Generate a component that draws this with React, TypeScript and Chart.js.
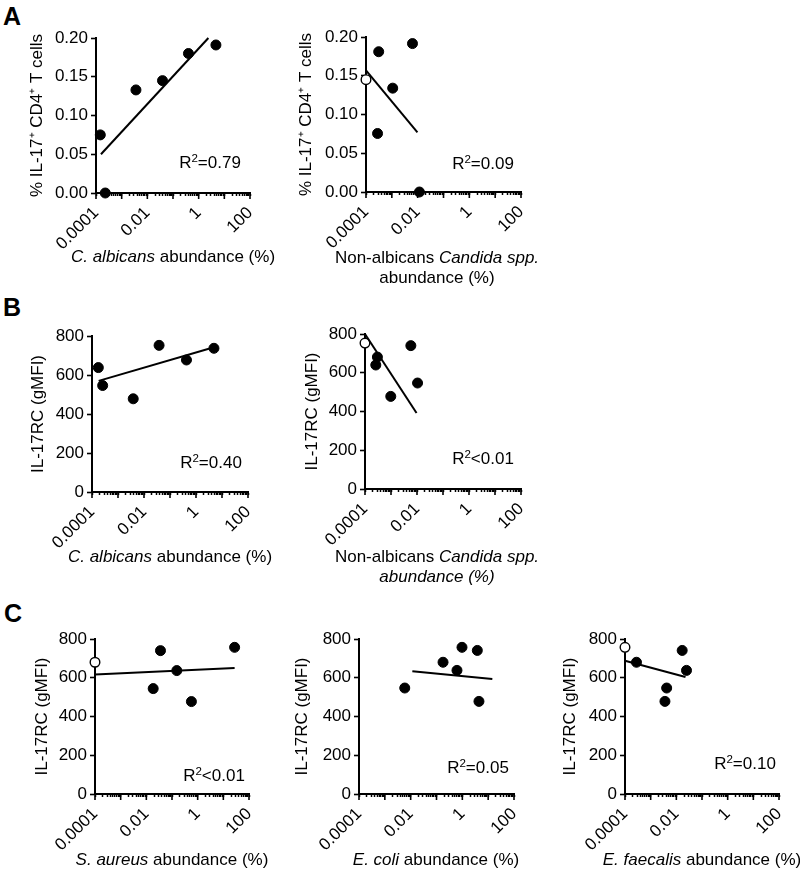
import React, { useEffect, useRef } from 'react';
import { Chart, registerables } from 'chart.js';

Chart.register(...registerables);

const FONT = '"Liberation Sans", Arial, Helvetica, sans-serif';
Chart.defaults.font.family = FONT;
Chart.defaults.color = '#000';

// ---------- axis ticks ----------
const X_MIN = 0.0001;
const X_MAX = 100;
const xTickValues = [0.0001, 0.01, 1, 100];
const xTickLabels = ['0.0001', '0.01', '1', '100'];
const yTicksPct = [0, 0.05, 0.1, 0.15, 0.2];
const yTicksMfi = [0, 200, 400, 600, 800];

const yTitlePct = '% IL-17\u207A CD4\u207A T cells';
const yTitleMfi = 'IL-17RC (gMFI)';

// ---------- Panel A, left: C. albicans ----------
const a1X = [0.000147, 0.00023, 0.0036, 0.039, 0.4, 4.7];
const a1Y = [0.075, 0, 0.133, 0.145, 0.18, 0.191];
const a1OpenX: number[] = [];
const a1OpenY: number[] = [];
const a1FitX = [0.000156, 2.39];
const a1FitY = [0.05, 0.2];

// ---------- Panel A, right: non-albicans Candida ----------
const a2X = [0.00031, 0.00028, 0.00108, 0.0063, 0.0117];
const a2Y = [0.181, 0.0755, 0.134, 0.1915, 0];
const a2OpenX = [0.0001];
const a2OpenY = [0.145];
const a2FitX = [0.0001, 0.0098];
const a2FitY = [0.157, 0.077];

// ---------- Panel B, left: C. albicans ----------
const b1X = [0.000175, 0.000257, 0.00385, 0.038, 0.43, 4.9];
const b1Y = [638, 546, 478, 752, 677, 737];
const b1OpenX: number[] = [];
const b1OpenY: number[] = [];
const b1FitX = [0.00018, 4.9];
const b1FitY = [570, 742];

// ---------- Panel B, right: non-albicans Candida ----------
const b2X = [0.0003, 0.00026, 0.00098, 0.0058, 0.0105];
const b2Y = [681, 640, 478, 740, 547];
const b2OpenX = [0.0001];
const b2OpenY = [753];
const b2FitX = [0.0001, 0.0096];
const b2FitY = [800, 392];

// ---------- Panel C, left: S. aureus ----------
const c1X = [0.0356, 0.0185, 0.154, 0.57, 27.5];
const c1Y = [740, 544, 637, 477, 757];
const c1OpenX = [0.0001];
const c1OpenY = [680];
const c1FitX = [0.0001, 27.5];
const c1FitY = [617, 650];

// ---------- Panel C, middle: E. coli ----------
const c2X = [0.0059, 0.179, 0.62, 0.97, 3.8, 4.4];
const c2Y = [547, 680, 638, 757, 741, 478];
const c2OpenX: number[] = [];
const c2OpenY: number[] = [];
const c2FitX = [0.0116, 14.5];
const c2FitY = [633, 594];

// ---------- Panel C, right: E. faecalis ----------
const c3X = [0.00028, 0.0036, 0.0042, 0.0169, 0.0249];
const c3Y = [680, 478, 547, 741, 638];
const c3OpenX = [0.0001];
const c3OpenY = [757];
const c3FitX = [0.0001, 0.0228];
const c3FitY = [688, 604];

// ---------- layout ----------
const PAD_T = 14;
const PAD_R = 14;
const X_H = 60;
const MINOR_LEN = 3;
const MAJOR_LEN = 6;

type Spec = {
  ax: number; right: number; top: number; bottom: number; yw: number;
  yMax: number; yTicks: number[]; yTitle: string; dec: number;
  fx: number[]; fy: number[]; ox: number[]; oy: number[]; lx: number[]; ly: number[];
};

const specs: Spec[] = [
  { ax: 96, right: 250, top: 38, bottom: 193, yw: 73, yMax: 0.2, yTicks: yTicksPct, yTitle: yTitlePct, dec: 2,
    fx: a1X, fy: a1Y, ox: a1OpenX, oy: a1OpenY, lx: a1FitX, ly: a1FitY },
  { ax: 366, right: 521, top: 37, bottom: 192, yw: 74, yMax: 0.2, yTicks: yTicksPct, yTitle: yTitlePct, dec: 2,
    fx: a2X, fy: a2Y, ox: a2OpenX, oy: a2OpenY, lx: a2FitX, ly: a2FitY },
  { ax: 92, right: 248, top: 336, bottom: 492, yw: 68, yMax: 800, yTicks: yTicksMfi, yTitle: yTitleMfi, dec: 0,
    fx: b1X, fy: b1Y, ox: b1OpenX, oy: b1OpenY, lx: b1FitX, ly: b1FitY },
  { ax: 365, right: 521, top: 334, bottom: 489, yw: 67, yMax: 800, yTicks: yTicksMfi, yTitle: yTitleMfi, dec: 0,
    fx: b2X, fy: b2Y, ox: b2OpenX, oy: b2OpenY, lx: b2FitX, ly: b2FitY },
  { ax: 95, right: 249, top: 639, bottom: 794, yw: 67, yMax: 800, yTicks: yTicksMfi, yTitle: yTitleMfi, dec: 0,
    fx: c1X, fy: c1Y, ox: c1OpenX, oy: c1OpenY, lx: c1FitX, ly: c1FitY },
  { ax: 359, right: 514, top: 639, bottom: 794, yw: 71, yMax: 800, yTicks: yTicksMfi, yTitle: yTitleMfi, dec: 0,
    fx: c2X, fy: c2Y, ox: c2OpenX, oy: c2OpenY, lx: c2FitX, ly: c2FitY },
  { ax: 625, right: 779, top: 639, bottom: 794, yw: 69, yMax: 800, yTicks: yTicksMfi, yTitle: yTitleMfi, dec: 0,
    fx: c3X, fy: c3Y, ox: c3OpenX, oy: c3OpenY, lx: c3FitX, ly: c3FitY },
];

function allLogTicks(): number[] {
  const out: number[] = [];
  const e0 = Math.round(Math.log10(X_MIN));
  const e1 = Math.round(Math.log10(X_MAX));
  for (let e = e0; e < e1; e++) {
    for (let m = 1; m <= 9; m++) out.push(m * Math.pow(10, e));
  }
  out.push(X_MAX);
  return out;
}

function xLabel(v: number): string {
  for (let i = 0; i < xTickValues.length; i++) {
    if (Math.abs(v - xTickValues[i]) < xTickValues[i] * 1e-6) return xTickLabels[i];
  }
  return '';
}

const majorTickPlugin = {
  id: 'majorTicks',
  afterDraw(chart: any) {
    const sx = chart.scales.x;
    const ctx = chart.ctx;
    ctx.save();
    ctx.strokeStyle = '#000';
    ctx.lineWidth = 1.6;
    const e0 = Math.round(Math.log10(X_MIN));
    const e1 = Math.round(Math.log10(X_MAX));
    for (let e = e0; e <= e1; e++) {
      const px = sx.getPixelForValue(Math.pow(10, e));
      ctx.beginPath();
      ctx.moveTo(px, sx.top);
      ctx.lineTo(px, sx.top + MAJOR_LEN);
      ctx.stroke();
    }
    ctx.restore();
  },
};

function Panel({ s }: { s: Spec }) {
  const ref = useRef<HTMLCanvasElement>(null);
  const L = s.ax - s.yw;
  const T = s.top - PAD_T;
  const W = s.right + PAD_R - L;
  const H = s.bottom + X_H - T;
  useEffect(() => {
    const chart = new Chart(ref.current as HTMLCanvasElement, {
      type: 'scatter',
      data: {
        datasets: [
          {
            data: s.lx.map((x, i) => ({ x, y: s.ly[i] })),
            showLine: true, borderColor: '#000', borderWidth: 2, pointRadius: 0, clip: false,
          } as any,
          {
            data: s.fx.map((x, i) => ({ x, y: s.fy[i] })),
            pointRadius: 5, pointBackgroundColor: '#000', pointBorderColor: '#000', pointBorderWidth: 1, clip: false,
          } as any,
          {
            data: s.ox.map((x, i) => ({ x, y: s.oy[i] })),
            pointRadius: 4.8, pointBackgroundColor: '#fff', pointBorderColor: '#000', pointBorderWidth: 1.4, clip: false,
          } as any,
        ],
      },
      options: {
        animation: false,
        responsive: false,
        maintainAspectRatio: false,
        devicePixelRatio: 1,
        events: [],
        layout: { padding: { top: PAD_T, right: PAD_R, left: 0, bottom: 0 } },
        plugins: { legend: { display: false }, tooltip: { enabled: false }, title: { display: false } },
        scales: {
          x: {
            type: 'logarithmic',
            min: X_MIN,
            max: X_MAX,
            afterBuildTicks: (sc: any) => { sc.ticks = allLogTicks().map((v) => ({ value: v })); },
            afterFit: (sc: any) => { sc.height = X_H; sc.paddingLeft = 0; sc.paddingRight = 0; },
            ticks: {
              autoSkip: false, minRotation: 45, maxRotation: 45, padding: 7, color: '#000',
              font: { family: FONT, size: 17 },
              callback: (v: any) => xLabel(Number(v)),
            },
            grid: { drawOnChartArea: false, drawTicks: true, tickLength: MINOR_LEN, tickColor: '#000', tickWidth: 1.5 },
            border: { display: true, color: '#000', width: 2 },
          } as any,
          y: {
            type: 'linear',
            min: 0,
            max: s.yMax,
            afterBuildTicks: (sc: any) => { sc.ticks = s.yTicks.map((v) => ({ value: v })); },
            afterFit: (sc: any) => { sc.width = s.yw; sc.paddingTop = 0; sc.paddingBottom = 0; },
            ticks: {
              color: '#000', padding: 3, font: { family: FONT, size: 17 },
              callback: (v: any) => Number(v).toFixed(s.dec),
            },
            grid: { drawOnChartArea: false, drawTicks: true, tickLength: 5, tickColor: '#000', tickWidth: 1.6 },
            border: { display: true, color: '#000', width: 2 },
            title: { display: true, text: s.yTitle, color: '#000', font: { family: FONT, size: 17 }, padding: { top: 4, bottom: 0 } },
          } as any,
        },
      } as any,
      plugins: [majorTickPlugin],
    });
    return () => chart.destroy();
  }, []);
  return (
    <canvas
      ref={ref}
      width={W}
      height={H}
      style={{ position: 'absolute', left: L, top: T, width: W, height: H }}
    />
  );
}

function Txt({ x, y, children, size = 17 }: { x: number; y: number; children: any; size?: number }) {
  return (
    <div
      style={{
        position: 'absolute', left: x, top: y, transform: 'translate(-50%, -50%)',
        fontSize: size, lineHeight: '20px', whiteSpace: 'nowrap', fontFamily: FONT, color: '#000',
      }}
    >
      {children}
    </div>
  );
}

const Sup = ({ children }: { children: any }) => (
  <span style={{ fontSize: '0.68em', position: 'relative', top: '-0.5em' }}>{children}</span>
);

const Letter = ({ x, y, t }: { x: number; y: number; t: string }) => (
  <div style={{ position: 'absolute', left: x, top: y, fontSize: 25, fontWeight: 'bold', lineHeight: 1, fontFamily: FONT, color: '#000' }}>{t}</div>
);

export default function App() {
  return (
    <div style={{ position: 'absolute', left: 0, top: 0, width: 800, height: 869, background: '#fff', overflow: 'hidden' }}>
      {specs.map((s, i) => <Panel key={i} s={s} />)}

      <Letter x={3} y={4} t="A" />
      <Letter x={3} y={295} t="B" />
      <Letter x={4} y={601} t="C" />

      <Txt x={173} y={257}><i>C. albicans</i> abundance (%)</Txt>
      <Txt x={437} y={258}>Non-albicans <i>Candida spp.</i></Txt>
      <Txt x={437} y={278}>abundance (%)</Txt>
      <Txt x={170} y={557}><i>C. albicans</i> abundance (%)</Txt>
      <Txt x={437} y={557}>Non-albicans <i>Candida spp.</i></Txt>
      <Txt x={437} y={577}><i>abundance (%)</i></Txt>
      <Txt x={172} y={860}><i>S. aureus</i> abundance (%)</Txt>
      <Txt x={436} y={860}><i>E. coli</i> abundance (%)</Txt>
      <Txt x={702} y={860}><i>E. faecalis</i> abundance (%)</Txt>

      <Txt x={210} y={163}>R<Sup>2</Sup>=0.79</Txt>
      <Txt x={483} y={164}>R<Sup>2</Sup>=0.09</Txt>
      <Txt x={211} y={463}>R<Sup>2</Sup>=0.40</Txt>
      <Txt x={483} y={459}>R<Sup>2</Sup>&lt;0.01</Txt>
      <Txt x={214} y={776}>R<Sup>2</Sup>&lt;0.01</Txt>
      <Txt x={478} y={768}>R<Sup>2</Sup>=0.05</Txt>
      <Txt x={745} y={764}>R<Sup>2</Sup>=0.10</Txt>
    </div>
  );
}
